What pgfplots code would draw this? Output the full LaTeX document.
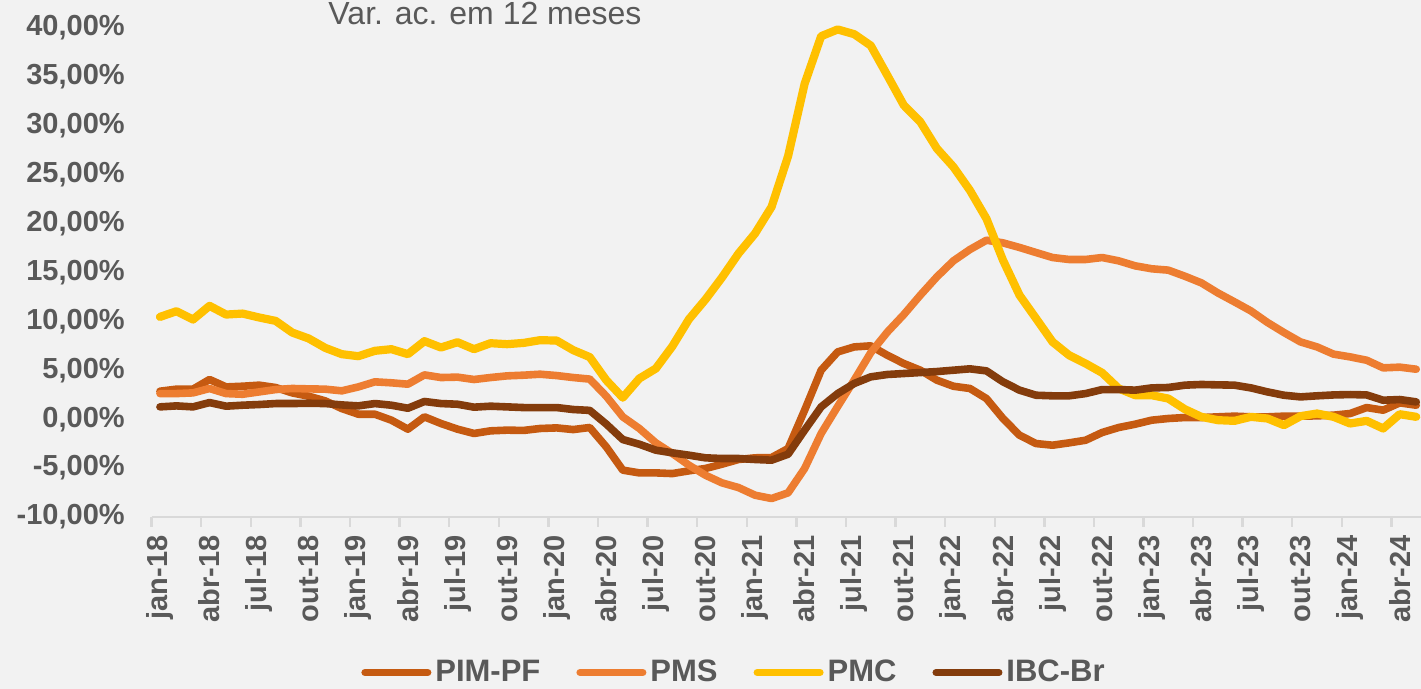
\documentclass[border=0pt]{standalone}
\usepackage{fontspec}
\setmainfont{Liberation Sans}
\usepackage{pgfplots}
\usepackage{pgfplotstable}
\pgfplotsset{compat=1.18}

\definecolor{bgcol}{HTML}{F2F2F2}
\definecolor{txtgray}{HTML}{595959}
\definecolor{axgray}{HTML}{D9D9D9}
\definecolor{cPIM}{HTML}{C55A11}
\definecolor{cPMS}{HTML}{ED7D31}
\definecolor{cPMC}{HTML}{FFC000}
\definecolor{cIBC}{HTML}{843C0C}

% var. acumulada em 12 meses (%), jan-18 = 0 ... mai-24 = 76
\pgfplotstableread{
m  pim    pms    pmc    ibc
0  2.86   2.62   10.46  1.26
1  3.07   2.62   11.04  1.36
2  3.07   2.69   10.19  1.26
3  4.06   3.14   11.59  1.70
4  3.30   2.62   10.70  1.33
5  3.37   2.55   10.80  1.43
6  3.48   2.79   10.40  1.50
7  3.24   3.03   10.05  1.60
8  2.69   3.14   8.86   1.60
9  2.35   3.10   8.25   1.63
10 1.87   3.07   7.29   1.60
11 1.09   2.90   6.65   1.46
12 0.51   3.30   6.44   1.36
13 0.51   3.82   6.99   1.60
14 -0.10  3.72   7.16   1.43
15 -1.02  3.58   6.65   1.12
16 0.24   4.53   7.98   1.81
17 -0.44  4.26   7.33   1.60
18 -1.02  4.30   7.87   1.53
19 -1.46  4.06   7.16   1.23
20 -1.19  4.26   7.77   1.33
21 -1.12  4.43   7.67   1.26
22 -1.15  4.50   7.80   1.19
23 -0.95  4.60   8.08   1.19
24 -0.89  4.46   8.04   1.19
25 -1.06  4.26   7.06   0.99
26 -0.85  4.10   6.35   0.90
27 -2.83  2.35   3.99   -0.50
28 -5.21  0.24   2.20   -2.08
29 -5.49  -0.95  4.16   -2.56
30 -5.49  -2.42  5.18   -3.17
31 -5.56  -3.51  7.46   -3.44
32 -5.28  -4.70  10.22  -3.68
33 -5.04  -5.73  12.24  -3.95
34 -4.60  -6.51  14.49  -4.02
35 -4.12  -6.99  16.94  -4.02
36 -3.95  -7.77  18.99  -4.12
37 -3.92  -8.11  21.71  -4.19
38 -3.00  -7.53  26.90  -3.58
39 0.92   -5.04  34.30  -1.12
40 5.01   -1.46  39.16  1.26
41 6.88   1.30   39.85  2.62
42 7.39   4.00   39.37  3.65
43 7.50   6.80   38.20  4.33
44 6.54   8.90   35.17  4.57
45 5.69   10.70  32.10  4.67
46 5.01   12.68  30.40  4.77
47 3.99   14.55  27.68  4.87
48 3.37   16.19  25.80  5.01
49 3.14   17.35  23.40  5.15
50 2.11   18.30  20.50  4.94
51 0.07   18.03  16.26  3.82
52 -1.64  17.56  12.68  2.97
53 -2.49  17.04  10.30  2.45
54 -2.66  16.53  7.90   2.39
55 -2.42  16.33  6.54   2.39
56 -2.15  16.33  5.69   2.62
57 -1.36  16.53  4.74   3.03
58 -0.85  16.19  3.14   3.03
59 -0.51  15.68  2.45   2.97
60 -0.10  15.38  2.45   3.20
61 0.07   15.24  2.11   3.24
62 0.17   14.62  1.02   3.48
63 0.17   13.94  0.24   3.55
64 0.24   12.91  -0.10  3.51
65 0.31   12.00  -0.17  3.48
66 0.24   11.07  0.24   3.20
67 0.24   9.89   0.07   2.79
68 0.31   8.86   -0.61  2.45
69 0.31   7.90   0.31   2.28
70 0.34   7.39   0.58   2.39
71 0.41   6.65   0.24   2.48
72 0.58   6.37   -0.44  2.52
73 1.19   6.03   -0.17  2.48
74 0.92   5.25   -0.95  1.94
75 1.67   5.32   0.51   2.01
76 1.43   5.11   0.24   1.77
}\indices

\begin{document}
\begin{tikzpicture}
\fill[bgcol] (-75.85pt,-86pt) rectangle (634.65pt,258.5pt);
\begin{axis}[
    at={(0,0)}, anchor=south west,
    scale only axis,
    width=636.4pt, height=244.5pt,
    xmin=-0.5, xmax=76.5,
    ymin=-10, ymax=40,
    clip=false,
    separate axis lines,
    axis x line*=bottom,
    axis y line*=left,
    y axis line style={draw=none},
    x axis line style={draw=axgray, line width=1.2pt},
    tick align=outside,
    major tick length=0pt,
    minor tick length=5pt,
    minor x tick style={draw=axgray, line width=1.2pt},
    ytick style={draw=none},
    ytick={-10,-5,0,5,10,15,20,25,30,35,40},
    yticklabels={{-10,00\%},{-5,00\%},{0,00\%},{5,00\%},{10,00\%},{15,00\%},{20,00\%},{25,00\%},{30,00\%},{35,00\%},{40,00\%}},
    xtick={0,3,...,75},
    minor xtick={-0.5,2.5,...,75.5},
    xticklabels={jan-18,abr-18,jul-18,out-18,jan-19,abr-19,jul-19,out-19,jan-20,abr-20,jul-20,out-20,jan-21,abr-21,jul-21,out-21,jan-22,abr-22,jul-22,out-22,jan-23,abr-23,jul-23,out-23,jan-24,abr-24},
    ticklabel style={font=\bfseries\fontsize{14.5}{16}\selectfont, text=txtgray},
    yticklabel style={anchor=east, inner sep=0pt, xshift=-13.3pt},
    xticklabel style={rotate=90, anchor=east, inner xsep=9pt, inner ysep=0pt},
    legend columns=4,
    legend style={at={(0.4583,-0.318)}, anchor=center, draw=none, fill=none,
        font=\bfseries\fontsize{15.5}{17}\selectfont, text=txtgray,
        nodes={inner xsep=2pt, inner ysep=0pt},
        /tikz/every even column/.append style={column sep=16pt}},
    legend image code/.code={\draw[#1, line width=3.6pt, line cap=round] (1.8pt,0pt) -- (33.2pt,0pt);},
    every axis plot/.append style={line width=3.8pt, line join=round, line cap=round, no markers},
]
\addplot[cPIM] table[x=m, y=pim] {\indices};
\addlegendentry{PIM-PF}
\addplot[cPMS] table[x=m, y=pms] {\indices};
\addlegendentry{PMS}
\addplot[cPMC, line width=4.1pt] table[x=m, y=pmc] {\indices};
\addlegendentry{PMC}
\addplot[cIBC] table[x=m, y=ibc] {\indices};
\addlegendentry{IBC-Br}
\end{axis}
\node[anchor=base, text=txtgray, font=\fontsize{16}{18}\selectfont] at (166.65pt,246pt) {Var. ac. em 12 meses};
\pgfresetboundingbox
\useasboundingbox (-75.85pt,-86pt) rectangle (634.65pt,258.5pt);
\end{tikzpicture}
\end{document}
